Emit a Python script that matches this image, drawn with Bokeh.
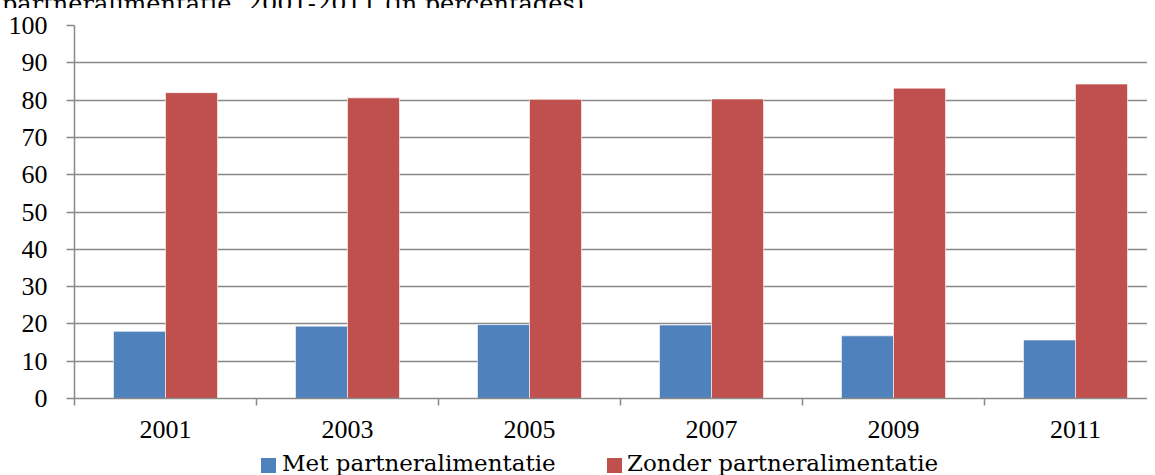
from bokeh.plotting import figure
from bokeh.layouts import column
from bokeh.models import (ColumnDataSource, Range1d, FixedTicker, SingleIntervalTicker, Div)
from bokeh.transform import dodge
from bokeh.embed import file_html
from bokeh.resources import INLINE

years = ["2001", "2003", "2005", "2007", "2009", "2011"]
met = [18.0, 19.4, 19.8, 19.7, 16.8, 15.7]
zonder = [82.0, 80.6, 80.2, 80.3, 83.2, 84.3]
series_names = ["Met partneralimentatie", "Zonder partneralimentatie"]
title_text = "partneralimentatie, 2001-2011 (in percentages)."

FONT = "Liberation Serif"
LFONT = "DejaVu Serif"
GRID = "#898989"
BLUE = "#4F81BD"
RED = "#C0504D"
colors = [BLUE, RED]

idx = list(range(len(years)))
src = ColumnDataSource(dict(idx=idx, year=years, met=met, zonder=zonder))

W = 1147
LEFT = 74
TOP = 17
FRAME_H = 373
BOTTOM = 54
CAT_PX = 182.0
frame_w = W - LEFT
x_end = -0.5 + frame_w / CAT_PX

p = figure(frame_width=frame_w, frame_height=FRAME_H, output_backend="svg",
           toolbar_location=None,
           x_range=Range1d(-0.5, x_end), y_range=Range1d(0, 100),
           min_border_left=LEFT, min_border_right=0, min_border_top=TOP,
           min_border_bottom=BOTTOM, margin=0)
p.outline_line_color = None
p.background_fill_color = "white"
p.border_fill_color = "white"

bw = 52.0 / CAT_PX
r1 = p.vbar(x=dodge("idx", -bw / 2, range=p.x_range), top="met", width=bw, source=src,
            fill_color=BLUE, line_color="white", line_alpha=0.6, line_width=1)
r2 = p.vbar(x=dodge("idx", bw / 2, range=p.x_range), top="zonder", width=bw, source=src,
            fill_color=RED, line_color="white", line_alpha=0.6, line_width=1)

# y axis
yax = p.yaxis[0]
yax.ticker = SingleIntervalTicker(interval=10)
yax.minor_tick_line_color = None
yax.major_tick_in = 0
yax.major_tick_out = 8
yax.major_tick_line_color = GRID
yax.major_tick_line_width = 1.5
yax.axis_line_color = GRID
yax.axis_line_width = 1.5
yax.major_label_text_font = FONT
yax.major_label_text_font_size = "26px"
yax.major_label_text_color = "black"
yax.major_label_standoff = 19

# x axis
xax = p.xaxis[0]
xax.ticker = FixedTicker(ticks=idx, minor_ticks=[i - 0.5 for i in range(len(years) + 1)])
xax.major_label_overrides = {i: y for i, y in zip(idx, years)}
xax.major_tick_in = 0
xax.major_tick_out = 0
xax.minor_tick_in = 0
xax.minor_tick_out = 7
xax.minor_tick_line_color = GRID
xax.minor_tick_line_width = 1.5
xax.axis_line_color = GRID
xax.axis_line_width = 1.5
xax.major_label_text_font = FONT
xax.major_label_text_font_size = "26px"
xax.major_label_text_color = "black"
xax.major_label_standoff = 15

p.xgrid.grid_line_color = None
p.ygrid.grid_line_color = GRID
p.ygrid.grid_line_width = 1.5

# cut-off title line at the very top (as in the reference)
title_div = Div(
    text=(f'<div style="margin-top:-20px;padding-left:2px;line-height:26px;'
          f'font-family:\'{LFONT}\';font-size:24px;color:black;white-space:nowrap">'
          f'{title_text}</div>'),
    width=W, height=8, margin=0, styles={"overflow": "hidden"})

# legend under the axis
sq_x = [261, 607]
tx_x = [282, 627]
parts = []
for name, c, sx, tx in zip(series_names, colors, sq_x, tx_x):
    parts.append(f'<span style="position:absolute;left:{sx}px;top:6px;width:15px;'
                 f'height:15px;background:{c}"></span>')
    parts.append(f'<span style="position:absolute;left:{tx}px;top:-1px;line-height:24px">'
                 f'{name}</span>')
legend_div = Div(
    text=(f'<div style="position:relative;width:{W}px;height:23px;'
          f'font-family:\'{LFONT}\';font-size:23px;color:black;white-space:nowrap">'
          + "".join(parts) + '</div>'),
    width=W, height=23, margin=0)

layout = column(title_div, p, legend_div, spacing=0)

open("out.html", "w").write(file_html(layout, INLINE))
